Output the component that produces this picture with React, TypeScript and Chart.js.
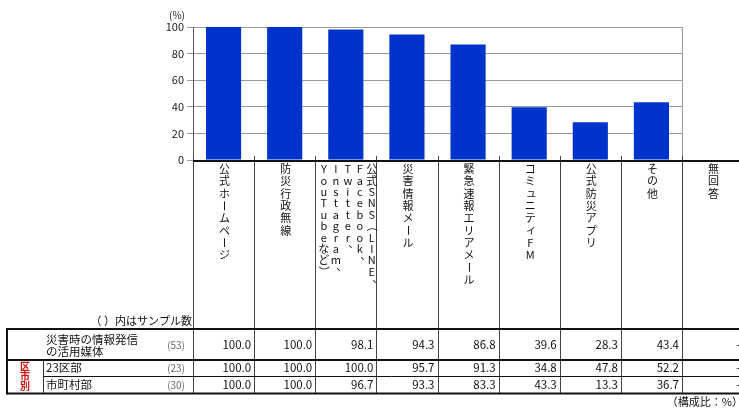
import React, { useEffect, useRef } from "react";
import { Chart, registerables } from "chart.js";

Chart.register(...registerables);

// Media used to send out information during disasters (share of respondents, %)
const CATEGORIES = [
  "公式ホームページ",
  "防災行政無線",
  "公式SNS（LINE、Facebook、Twitter、Instagram、YouTubeなど）",
  "災害情報メール",
  "緊急速報エリアメール",
  "コミュニティFM",
  "公式防災アプリ",
  "その他",
  "無回答",
];

// Header text split into vertical columns, listed right to left
const HEADER_COLUMNS: string[][] = [
  ["公式ホームページ"],
  ["防災行政無線"],
  ["公式SNS（LINE、", "Facebook、", "Twitter、", "Instagram、", "YouTubeなど）"],
  ["災害情報メール"],
  ["緊急速報エリアメール"],
  ["コミュニティFM"],
  ["公式防災アプリ"],
  ["その他"],
  ["無回答"],
];

const TOTAL: (number | null)[] = [100.0, 100.0, 98.1, 94.3, 86.8, 39.6, 28.3, 43.4, null];
const WARDS: (number | null)[] = [100.0, 100.0, 100.0, 95.7, 91.3, 34.8, 47.8, 52.2, null];
const MUNICIPALITIES: (number | null)[] = [100.0, 100.0, 96.7, 93.3, 83.3, 43.3, 13.3, 36.7, null];

const TOTAL_LABEL = ["災害時の情報発信", "の活用媒体"];
const WARDS_LABEL = "23区部";
const MUNICIPALITIES_LABEL = "市町村部";
const SAMPLE_SIZES = [53, 23, 30];
const GROUP_LABEL = "区市別";
const SAMPLE_NOTE = "（ ）内はサンプル数";
const UNIT_NOTE = "（構成比：%）";
const Y_UNIT = "(%)";
const Y_TICKS_MAX = 100;
const Y_STEP = 20;
const PLOTTED_CATEGORIES = 8;

const JP = '"Noto Sans CJK JP", "Noto Sans", sans-serif';

const ROTATED = new Set(["ー", "（", "）", "(", ")", "～"]);
const COMMAS = new Set(["、", "。"]);
const SMALL_KANA = new Set(["ャ", "ュ", "ョ", "ッ", "ァ", "ィ", "ゥ", "ェ", "ォ"]);

function drawVertical(
  ctx: CanvasRenderingContext2D,
  text: string,
  x: number,
  firstY: number,
  pitch: number,
  size: number
) {
  const chars = Array.from(text);
  chars.forEach((ch, i) => {
    const cy = firstY + i * pitch;
    if (ROTATED.has(ch)) {
      ctx.save();
      ctx.translate(x, cy);
      ctx.rotate(Math.PI / 2);
      ctx.fillText(ch, 0, 0);
      ctx.restore();
    } else if (COMMAS.has(ch)) {
      ctx.fillText(ch, x + size * 0.55, cy - size * 0.5);
    } else if (SMALL_KANA.has(ch)) {
      ctx.fillText(ch, x + size * 0.1, cy - size * 0.1);
    } else {
      ctx.fillText(ch, x, cy);
    }
  });
}

const fmt = (v: number | null) => (v == null ? "-" : v.toFixed(1));

const tablePlugin = {
  id: "surveyTable",
  afterDraw(chart: any) {
    const ctx: CanvasRenderingContext2D = chart.ctx;
    const area = chart.chartArea;
    const xs = chart.scales.x;
    const ys = chart.scales.y;
    const centers = CATEGORIES.map((_, i) => xs.getPixelForValue(i));
    const half = (centers[1] - centers[0]) / 2;
    const bounds = centers.map((c) => c - half);
    bounds.push(centers[centers.length - 1] + half);

    const tableTop = 329;
    const row1Bottom = 360;
    const row2Bottom = 376;
    const tableBottom = 393.5;
    const tableLeft = 7;
    const groupRight = 43;
    const W = chart.width + 10;

    ctx.save();

    // right edge of the plot frame
    ctx.strokeStyle = "#999";
    ctx.lineWidth = 1;
    ctx.beginPath();
    ctx.moveTo(Math.round(area.right) + 0.5, area.top);
    ctx.lineTo(Math.round(area.right) + 0.5, area.bottom);
    ctx.stroke();

    // column dividers
    ctx.strokeStyle = "#444";
    ctx.lineWidth = 1;
    bounds.forEach((b) => {
      const x = Math.round(b) + 0.5;
      ctx.beginPath();
      ctx.moveTo(x, area.bottom - 4);
      ctx.lineTo(x, tableBottom);
      ctx.stroke();
    });

    // thick horizontal rules
    ctx.strokeStyle = "#111";
    ctx.lineWidth = 2;
    const hline = (x0: number, x1: number, y: number) => {
      ctx.beginPath();
      ctx.moveTo(x0, y);
      ctx.lineTo(x1, y);
      ctx.stroke();
    };
    hline(area.left, W, area.bottom + 1);
    hline(tableLeft, W, tableTop);
    hline(tableLeft, W, row1Bottom);
    hline(tableLeft, W, tableBottom);
    ctx.beginPath();
    ctx.moveTo(tableLeft, tableTop - 1);
    ctx.lineTo(tableLeft, tableBottom + 1);
    ctx.stroke();
    ctx.lineWidth = 1;
    hline(groupRight, W, row2Bottom + 0.5);
    ctx.strokeStyle = "#333";
    ctx.beginPath();
    ctx.moveTo(groupRight + 0.5, row1Bottom);
    ctx.lineTo(groupRight + 0.5, tableBottom);
    ctx.stroke();

    // vertical header labels
    ctx.fillStyle = "#111";
    ctx.textAlign = "center";
    ctx.textBaseline = "middle";
    const hs = 11;
    ctx.font = `${hs}px ${JP}`;
    HEADER_COLUMNS.forEach((cols, i) => {
      const n = cols.length;
      const pitch = n > 1 ? 11.4 : 12.3;
      cols.forEach((col, k) => {
        const x = centers[i] + (n > 1 ? ((n - 1) / 2 - k) * 12 + 2 : 1);
        drawVertical(ctx, col, x, 169, pitch, hs);
      });
    });

    // y unit
    ctx.font = `10px ${JP}`;
    ctx.textAlign = "center";
    ctx.fillStyle = "#222";
    ctx.fillText(Y_UNIT, ys.right - 16, area.top - 12);

    // notes
    ctx.font = `11px ${JP}`;
    ctx.textAlign = "right";
    ctx.fillStyle = "#111";
    ctx.fillText(SAMPLE_NOTE, area.left - 1, 321);
    ctx.fillText(UNIT_NOTE, W - 6, 402);

    // row labels
    ctx.font = `11.5px ${JP}`;
    ctx.textAlign = "left";
    ctx.fillText(TOTAL_LABEL[0], 46, 340);
    ctx.fillText(TOTAL_LABEL[1], 46, 352);
    ctx.fillText(WARDS_LABEL, 46, 368);
    ctx.fillText(MUNICIPALITIES_LABEL, 46, 385);

    // sample sizes
    ctx.font = `10px ${JP}`;
    ctx.fillStyle = "#666";
    ctx.textAlign = "right";
    const rowYs = [345, 368, 385];
    SAMPLE_SIZES.forEach((n, r) => ctx.fillText(`(${n})`, 185, rowYs[r]));

    // group label
    ctx.font = `bold 10px ${JP}`;
    ctx.fillStyle = "#cc1111";
    ctx.textAlign = "center";
    drawVertical(ctx, GROUP_LABEL, 25, 366, 10.3, 10);

    // values
    ctx.font = `11.5px ${JP}`;
    ctx.fillStyle = "#111";
    ctx.textAlign = "right";
    [TOTAL, WARDS, MUNICIPALITIES].forEach((row, r) => {
      row.forEach((v, i) => {
        ctx.fillText(fmt(v), bounds[i + 1] - 3, rowYs[r]);
      });
    });

    ctx.restore();
  },
};

export default function App() {
  const ref = useRef<HTMLCanvasElement>(null);

  useEffect(() => {
    if (!ref.current) return;
    const chart = new Chart(ref.current, {
      type: "bar",
      data: {
        labels: CATEGORIES,
        datasets: [
          {
            data: TOTAL as any,
            backgroundColor: "#0033CC",
            barPercentage: 0.575,
            categoryPercentage: 1,
          },
        ],
      },
      options: {
        responsive: false,
        animation: false,
        layout: { padding: { left: 0, right: 57, top: 27, bottom: 248 } },
        plugins: { legend: { display: false }, tooltip: { enabled: false } },
        scales: {
          x: {
            max: PLOTTED_CATEGORIES - 1,
            ticks: { display: false },
            grid: { display: false },
            border: { display: false },
            afterFit: (s: any) => {
              s.height = 0;
            },
          },
          y: {
            min: 0,
            max: Y_TICKS_MAX,
            ticks: {
              stepSize: Y_STEP,
              font: { size: 11, family: JP },
              color: "#222",
              padding: 3,
            },
            grid: { color: "#9a9a9a", tickLength: 6, lineWidth: 1 },
            border: { color: "#555" },
            afterFit: (s: any) => {
              s.width = 193;
            },
          },
        },
      },
      plugins: [tablePlugin],
    });
    return () => chart.destroy();
  }, []);

  return (
    <div style={{ position: "fixed", left: 0, top: 0, width: 739, height: 408, background: "#fff" }}>
      <canvas ref={ref} width={739} height={408} style={{ width: 739, height: 408 }} />
    </div>
  );
}
